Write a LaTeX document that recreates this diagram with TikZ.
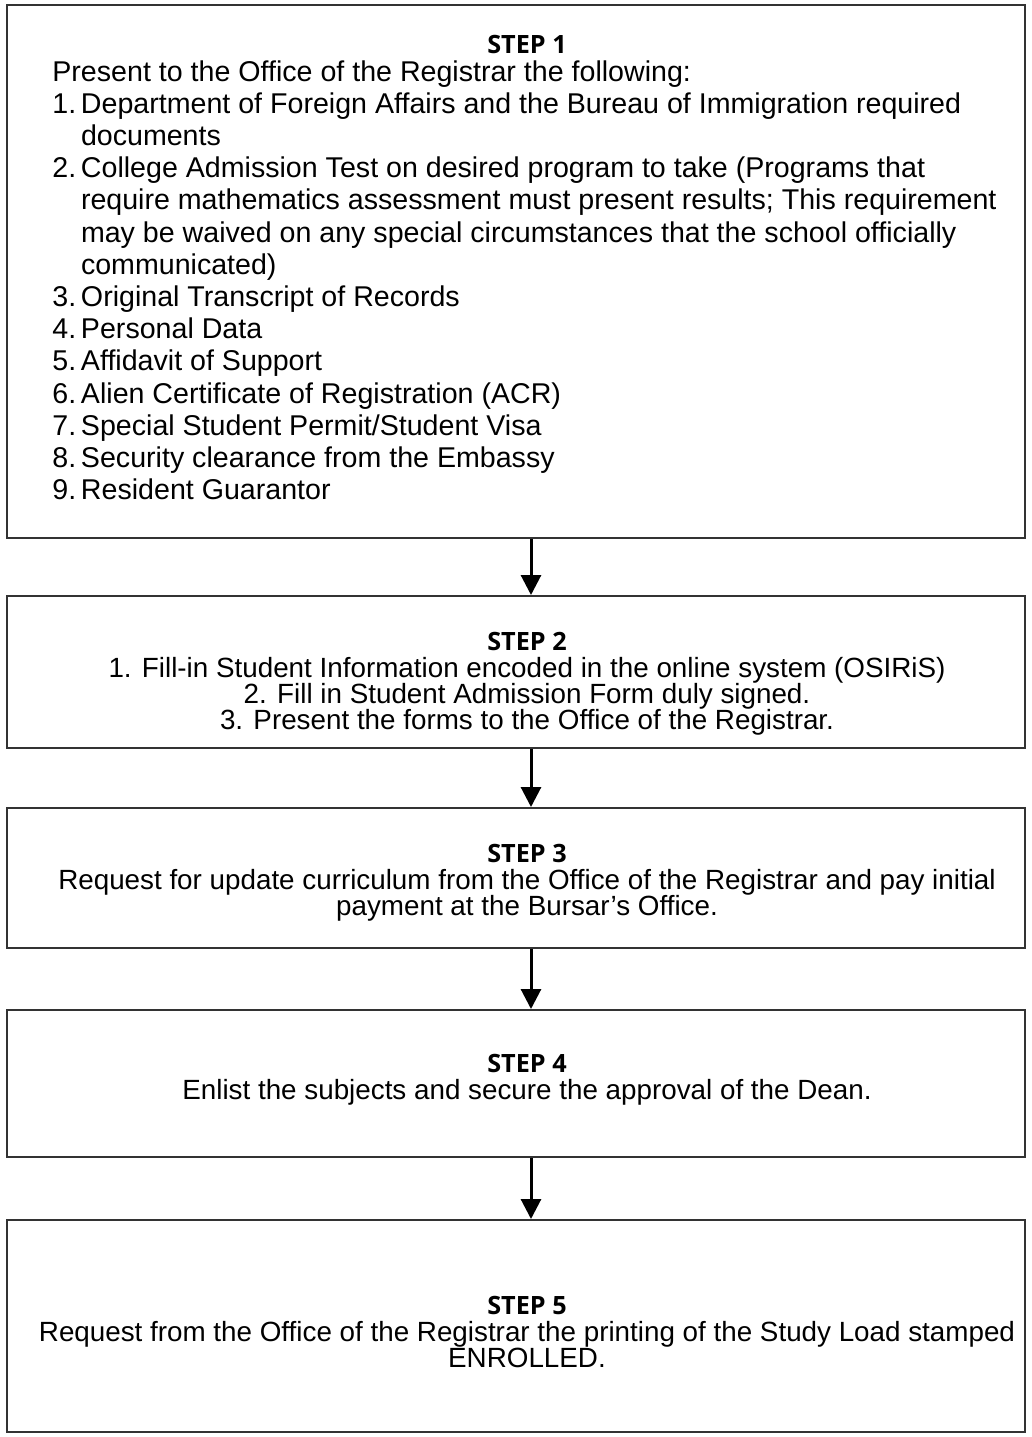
\documentclass[tikz,border=0pt]{standalone}
\usepackage{fontspec}
\setmainfont{Liberation Sans}
\newfontfamily\headfont{Open Sans}
\usetikzlibrary{arrows.meta}
\usetikzlibrary{positioning}
\tikzset{stepbox/.style = {draw=black!80, line width=1pt, minimum width=509pt, inner sep=0}}
\tikzset{steptext/.style = {align=center, inner sep=0, font=\fontsize{13.9}{13.2}\selectfont}}
\tikzset{headtext/.style = {inner sep=0, anchor=north}}
\tikzset{listtext/.style = {align=left, inner sep=0, anchor=north west, font=\fontsize{14.3}{16.1}\selectfont}}
\tikzset{flow/.style = {line width=1.5pt, -{Triangle[length=10pt, width=10pt]}}}
\newcommand{\stephead}[1]{{\headfont\bfseries\fontsize{12.6}{13.2}\selectfont #1}}
\newcommand{\itm}[1]{\makebox[1em][l]{#1}}

\begin{document}
\begin{tikzpicture}[x=0.5pt, y=-0.5pt]
    \useasboundingbox (0, 0) rectangle (1032, 1437);
    \coordinate (axis) at (531, 0);
    % boxes
    \node[stepbox, minimum height=266.5pt] (box1) at (516, 271.5) {};
    \node[stepbox, minimum height=76pt] (box2) at (516, 672) {};
    \node[stepbox, minimum height=70pt] (box3) at (516, 878) {};
    \node[stepbox, minimum height=73.5pt] (box4) at (516, 1083.5) {};
    \node[stepbox, minimum height=106pt] (box5) at (516, 1326) {};
    % texts
    \node[headtext] (head1) at (527, 35) {\stephead{STEP 1}};
    \node[listtext] (list1) at (52, 60) {Present to the Office of the Registrar the following:\\
      \itm{1.}Department of Foreign Affairs and the Bureau of Immigration required\\
      \itm{}documents\\
      \itm{2.}College Admission Test on desired program to take (Programs that\\
      \itm{}require mathematics assessment must present results; This requirement\\
      \itm{}may be waived on any special circumstances that the school officially\\
      \itm{}communicated)\\
      \itm{3.}Original Transcript of Records\\
      \itm{4.}Personal Data\\
      \itm{5.}Affidavit of Support\\
      \itm{6.}Alien Certificate of Registration (ACR)\\
      \itm{7.}Special Student Permit/Student Visa\\
      \itm{8.}Security clearance from the Embassy\\
      \itm{9.}Resident Guarantor};
    \node[steptext, anchor=north] (text2) at (527, 632) {\stephead{STEP 2}\\
      1. Fill-in Student Information encoded in the online system (OSIRiS)\\
      2. Fill in Student Admission Form duly signed.\\
      3. Present the forms to the Office of the Registrar.};
    \node[steptext, anchor=north] (text3) at (527, 844) {\stephead{STEP 3}\\
      Request for update curriculum from the Office of the Registrar and pay initial\\
      payment at the Bursar’s Office.};
    \node[steptext, anchor=north] (text4) at (527, 1054) {\stephead{STEP 4}\\
      Enlist the subjects and secure the approval of the Dean.};
    \node[steptext, anchor=north] (text5) at (527, 1296) {\stephead{STEP 5}\\
      Request from the Office of the Registrar the printing of the Study Load stamped\\
      ENROLLED.};
    % arrows
    \draw[flow] (box1.south -| axis) -- (box2.north -| axis);
    \draw[flow] (box2.south -| axis) -- (box3.north -| axis);
    \draw[flow] (box3.south -| axis) -- (box4.north -| axis);
    \draw[flow] (box4.south -| axis) -- (box5.north -| axis);
\end{tikzpicture}
\end{document}
